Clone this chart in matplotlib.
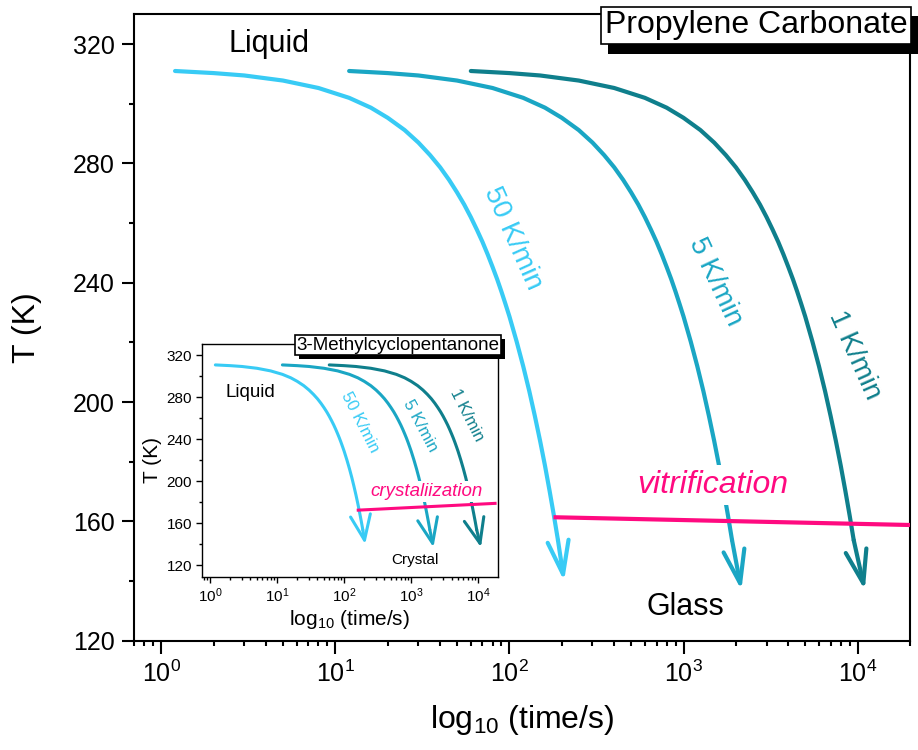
import matplotlib.pyplot as plt
import matplotlib.patheffects as pe
from matplotlib.ticker import MultipleLocator, LogLocator, NullFormatter

plt.rcParams['font.family'] = ['Liberation Sans', 'DejaVu Sans']
plt.rcParams['mathtext.fontset'] = 'custom'
plt.rcParams['mathtext.rm'] = 'Liberation Sans'
plt.rcParams['mathtext.it'] = 'Liberation Sans:italic'

# cooling curves: time (s), temperature (K)
t_50 = [1.2, 2, 3, 5, 8, 12, 16, 20, 25, 30, 35, 40, 45, 50, 55, 60, 65, 70, 75, 80,
        85, 90, 95, 100, 110, 120, 130, 140, 150, 160, 170, 180, 190, 206]
T_50 = [311.0, 310.3, 309.5, 307.8, 305.3, 302.0, 298.7, 295.3, 291.2, 287.0, 282.8,
        278.7, 274.5, 270.3, 266.2, 262.0, 257.8, 253.7, 249.5, 245.3, 241.2, 237.0,
        232.8, 228.7, 220.3, 212.0, 203.7, 195.3, 187.0, 178.7, 170.3, 162.0, 153.7,
        140.0]
t_5 = [12, 20, 30, 50, 80, 120, 160, 200, 250, 300, 350, 400, 450, 500, 550, 600, 650,
       700, 750, 800, 850, 900, 950, 1000, 1100, 1200, 1300, 1400, 1500, 1600, 1700,
       1800, 1900, 2150]
T_5 = [311.0, 310.3, 309.5, 307.8, 305.3, 302.0, 298.7, 295.3, 291.2, 287.0, 282.8,
       278.7, 274.5, 270.3, 266.2, 262.0, 257.8, 253.7, 249.5, 245.3, 241.2, 237.0,
       232.8, 228.7, 220.3, 212.0, 203.7, 195.3, 187.0, 178.7, 170.3, 162.0, 153.7,
       137.0]
t_1 = [60, 100, 150, 250, 400, 600, 800, 1000, 1250, 1500, 1750, 2000, 2250, 2500,
       2750, 3000, 3250, 3500, 3750, 4000, 4250, 4500, 4750, 5000, 5500, 6000, 6500,
       7000, 7500, 8000, 8500, 9000, 9500, 11000]
T_1 = [311.0, 310.3, 309.5, 307.8, 305.3, 302.0, 298.7, 295.3, 291.2, 287.0, 282.8,
       278.7, 274.5, 270.3, 266.2, 262.0, 257.8, 253.7, 249.5, 245.3, 241.2, 237.0,
       232.8, 228.7, 220.3, 212.0, 203.7, 195.3, 187.0, 178.7, 170.3, 162.0, 153.7,
       137.0]

rates = ['50 K/min', '5 K/min', '1 K/min']
colors = ['#38CBF5', '#1AA6C4', '#0F7F8C']
pink = '#FF0A80'

# vitrification line (propylene carbonate) and crystallization line (inset)
vitr_t = [179, 20000]
vitr_T = [161.4, 158.8]
cryst_t = [154, 18800]
cryst_T = [172.4, 179.0]

times = [t_50, t_5, t_1]
temps = [T_50, T_5, T_1]


def draw_curves(a, lw, ms, hl, hw):
    for t, T, c in zip(times, temps, colors):
        a.plot(t[:-1], T[:-1], color=c, lw=lw, solid_capstyle='round',
               solid_joinstyle='round', zorder=2)
        a.annotate('', xy=(t[-1], T[-1]), xytext=(t[-2], T[-2]), zorder=2,
                   arrowprops=dict(arrowstyle=f'->,head_length={hl},head_width={hw}',
                                   color=c, lw=lw, shrinkA=0, shrinkB=0,
                                   mutation_scale=ms))


def shadow_box(x, y, s, size, dx, dy, pad):
    txt = fig.text(x, y, s, fontsize=size, ha='center', va='center', zorder=6,
                   bbox=dict(boxstyle=f'square,pad={pad}', fc='white', ec='black', lw=1.2))
    txt.get_bbox_patch().set_path_effects(
        [pe.withSimplePatchShadow(offset=(dx, -dy), shadow_rgbFace='black', alpha=1.0)])


fig = plt.figure(figsize=(9.18, 7.5), dpi=100)

# main axes
ax = fig.add_axes([0.1463, 0.1457, 0.845, 0.8352])
draw_curves(ax, 3.0, 20, 1.2, 0.38)
ax.plot(vitr_t, vitr_T, color=pink, lw=3.0, zorder=5, solid_capstyle='butt')
ax.set_xscale('log')
ax.set_xlim(0.7, 2e4)
ax.set_ylim(120, 330)
ax.yaxis.set_major_locator(MultipleLocator(40))
ax.yaxis.set_minor_locator(MultipleLocator(20))
ax.xaxis.set_major_locator(LogLocator(base=10, numticks=10))
ax.xaxis.set_minor_locator(LogLocator(base=10, subs=range(2, 10), numticks=20))
ax.xaxis.set_minor_formatter(NullFormatter())
ax.tick_params(which='major', direction='out', length=9, width=1.5, labelsize=18, pad=5)
ax.tick_params(which='minor', direction='out', length=3.6, width=1.5)
for sp in ax.spines.values():
    sp.set_linewidth(1.5)
ax.set_xlabel('log$_{10}$ (time/s)', fontsize=23, labelpad=12)
ax.set_ylabel('T (K)', fontsize=23, labelpad=22)

ax.text(4.17, 320, 'Liquid', fontsize=22, ha='center', va='center')
ax.text(1031, 131.3, 'Glass', fontsize=22, ha='center', va='center')
ax.text(1473, 172.2, 'vitrification', fontsize=23, style='italic', color=pink,
        ha='center', va='center', zorder=4,
        bbox=dict(boxstyle='square,pad=0.15', fc='white', ec='none'))
ax.text(104, 254.9, rates[0], fontsize=20, color=colors[0], rotation=-66,
        ha='center', va='center')
ax.text(1513, 240.2, rates[1], fontsize=20, color=colors[1], rotation=-65,
        ha='center', va='center')
ax.text(9660, 215.7, rates[2], fontsize=20, color=colors[2], rotation=-66,
        ha='center', va='center')

# inset: 3-methylcyclopentanone
ins = fig.add_axes([0.2197, 0.2311, 0.3224, 0.3103])
draw_curves(ins, 2.2, 15, 1.2, 0.48)
ins.plot(cryst_t, cryst_T, color=pink, lw=2.2, zorder=5, solid_capstyle='butt')
ins.set_xscale('log')
ins.set_xlim(0.75, 1.95e4)
ins.set_ylim(109, 331)
ins.yaxis.set_major_locator(MultipleLocator(40))
ins.yaxis.set_minor_locator(MultipleLocator(20))
ins.xaxis.set_major_locator(LogLocator(base=10, numticks=10))
ins.xaxis.set_minor_locator(LogLocator(base=10, subs=range(2, 10), numticks=20))
ins.xaxis.set_minor_formatter(NullFormatter())
ins.tick_params(which='major', direction='out', length=4, width=1, labelsize=11, pad=3)
ins.tick_params(which='minor', direction='out', length=2, width=1)
for sp in ins.spines.values():
    sp.set_linewidth(1)
ins.set_xlabel('log$_{10}$ (time/s)', fontsize=15, labelpad=2)
ins.set_ylabel('T (K)', fontsize=15, labelpad=3)

ins.text(3.95, 285, 'Liquid', fontsize=13.5, ha='center', va='center')
ins.text(1137, 124.8, 'Crystal', fontsize=11, ha='center', va='center')
ins.text(1700, 190.5, 'crystaliization', fontsize=13.5, style='italic', color=pink,
         ha='center', va='center', zorder=4,
         bbox=dict(boxstyle='square,pad=0.1', fc='white', ec='none'))
ins.text(172, 256.5, rates[0], fontsize=12, color=colors[0], rotation=-63,
         ha='center', va='center')
ins.text(1350, 253.3, rates[1], fontsize=12, color=colors[1], rotation=-62,
         ha='center', va='center')
ins.text(6710, 262.9, rates[2], fontsize=12, color=colors[2], rotation=-63,
         ha='center', va='center')

# title boxes with drop shadow
shadow_box(0.8235, 0.9661, 'Propylene Carbonate', 23, 5, 7, 0.12)
shadow_box(0.4336, 0.54, '3-Methylcyclopentanone', 13.5, 2.5, 3, 0.08)

fig.savefig('out.png', dpi=100)
